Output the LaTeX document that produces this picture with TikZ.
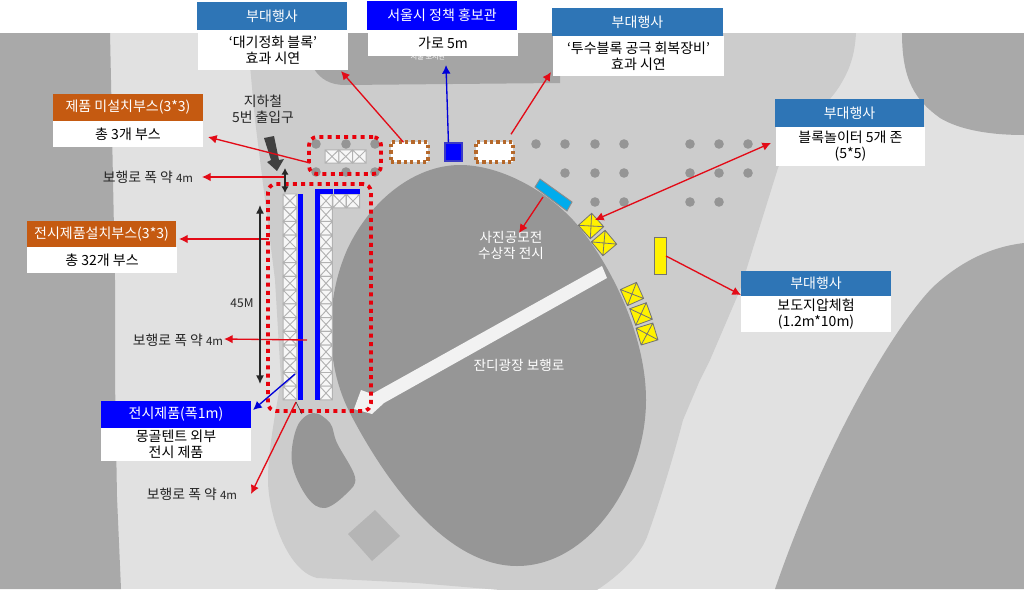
\documentclass[tikz,border=0pt]{standalone}
\usepackage{fontspec}
\setmainfont{Noto Sans CJK KR}
\usetikzlibrary{arrows.meta,calc}
\definecolor{roadc}{HTML}{E1E1E1}
\definecolor{plazac}{HTML}{CCCCCC}
\definecolor{darkc}{HTML}{A9A9A9}
\definecolor{ovalc}{HTML}{969696}
\definecolor{dotc}{HTML}{959595}
\definecolor{hblue}{HTML}{2E75B6}
\definecolor{horange}{HTML}{C55A11}
\definecolor{pure}{HTML}{0000FF}
\definecolor{redl}{HTML}{E30B17}
\definecolor{dotred}{HTML}{E8000B}
\definecolor{brownd}{HTML}{B5682A}
\definecolor{skyb}{HTML}{00ACEC}
\tikzset{
  x=.75pt,y=-.75pt,
  body/.style={fill=white,inner sep=0pt,align=center,text=black,font=\fontsize{10.5}{12}\selectfont},
  hdr/.style={inner sep=0pt,align=center,text=white,font=\fontsize{10.5}{12}\selectfont},
  txt/.style={inner sep=0pt,align=center,text=black!85,font=\fontsize{10.4}{12}\selectfont},
  wtxt/.style={inner sep=0pt,align=center,text=white,font=\fontsize{10.2}{12}\selectfont},
  xcell/.pic={\draw[pic actions] (-1,-1) rectangle (1,1) (-1,-1) -- (1,1) (-1,1) -- (1,-1);},
  graycell/.style={draw=black!30,fill=black!3,line width=.7pt},
  yellowcell/.style={draw=black!55,fill=yellow,line width=.6pt},
  redarrow/.style={draw=redl,line width=1pt,-{Latex[length=6.5pt,width=6.5pt]}},
  bluearrow/.style={draw=blue!85!black,line width=1pt,-{Latex[length=6.5pt,width=6.5pt]}},
  blackarrow/.style={draw=black!85,line width=1pt,-{Latex[length=6.5pt,width=6pt]}},
  dotframe/.style={draw=dotred,line width=2.8pt,dash pattern=on 3pt off 3.2pt,rounded corners=6pt},
  brownframe/.style={draw=brownd,fill=white,line width=2.6pt,dash pattern=on 2.4pt off 2.4pt},
  polenode/.style={circle,fill=dotc,inner sep=0pt,minimum size=7.2pt}
}
\newcommand{\boxnode}[7]{%
  \pgfmathsetmacro{\bw}{(#5-#3)*.75}\pgfmathsetmacro{\bh}{(#6-#4)*.75}%
  \node[#2,minimum width=\bw pt,minimum height=\bh pt] (#1) at ({(#3+#5)/2},{(#4+#6)/2}) {#7};}
\begin{document}
\begin{tikzpicture}
\useasboundingbox (0,0) rectangle (1024,589);
\begin{scope}
\clip (0,0) rectangle (1024,589);
\fill[white] (0,0) rectangle (1024,589);
\fill[roadc] (0,33) rectangle (1024,589);
% left strip
\fill[darkc] (0,33) -- (110,33) -- (111,80) -- (115,280) -- (115,380) -- (117,497) -- (121,589) -- (0,589) -- cycle;
% top right and bottom right blocks
\fill[darkc] (902,33) .. controls (902,80) and (915,100) .. (940,118) .. controls (960,130) and (990,135) .. (1024,135) -- (1024,33) -- cycle;
\fill[darkc] (1024,243) .. controls (990,247) and (960,262) .. (933,287) .. controls (900,320) and (830,430) .. (775,589) -- (1024,589) -- cycle;
% plaza
\fill[plazac] (247,33) -- (255,120) -- (275,280) -- (281,380)
  .. controls (276,410) and (268,450) .. (268,480)
  .. controls (268,510) and (285,570) .. (317,578)
  -- (417,583) -- (500,590) -- (597,590)
  .. controls (620,575) and (640,555) .. (647,537)
  .. controls (655,515) and (670,470) .. (683,420)
  -- (700,380) -- (710,360) -- (740,290) -- (778,168)
  .. controls (790,135) and (830,105) .. (842,82)
  .. controls (852,65) and (855,50) .. (856,33) -- cycle;
% top dark band
\fill[darkc!98!black] (305,33) .. controls (306,60) and (315,85) .. (345,85) -- (560,83) -- (560,33) -- cycle;
% oval
\fill[ovalc] (460,165) .. controls (500,165) and (545,190) .. (573,220)
  .. controls (605,255) and (646,330) .. (646,400)
  .. controls (646,480) and (590,566) .. (517,566)
  .. controls (450,566) and (390,490) .. (350,413)
  .. controls (325,365) and (325,300) .. (347,250)
  .. controls (370,200) and (415,165) .. (460,165) -- cycle;
% pond
\fill[ovalc] plot[smooth cycle,tension=.6] coordinates {(313,413) (330,423) (337,443) (355,477) (347,493) (325,508) (307,497) (292,463) (297,427)};
% diamond
\fill[black!29] (375,510) -- (400,536) -- (372,561) -- (348,534) -- cycle;
\end{scope}
% white walkway arrow
\fill[black!5] (354,409) -- (361,390) -- (372,394) -- (602,266) -- (607,278) -- (384,403) -- (372,414) -- cycle;
% subway arrow
\fill[black!75] (264,138) -- (274,136) -- (279,160) -- (284,159) -- (277,171) -- (267,162) -- (271,160) -- cycle;
% poles
\foreach \px/\py in {316/144,346/144,375/144,316/172,346/172,375/172,
  536/144,565/144,595/144,624/144,690/144,719/144,748/144,
  565/173,595/173,624/173,690/173,719/173,748/173,
  595/202,624/202,690/202,719/202}
  \node[polenode] at (\px,\py) {};
% booths
\foreach \i in {0,...,14}{
  \pic[graycell,xscale=6.9,yscale=6.85] at (290,{194+6.87+13.73*\i}) {xcell};
  \pic[graycell,xscale=6.3,yscale=6.85] at (326,{194+6.87+13.73*\i}) {xcell};
}
\pic[graycell,xscale=6.7,yscale=6.85] at (339.5,201) {xcell};
\pic[graycell,xscale=6.7,yscale=6.85] at (353,201) {xcell};
\pic[graycell,xscale=6.8,yscale=6.6] at (332,156.5) {xcell};
\pic[graycell,xscale=6.8,yscale=6.6] at (345.7,156.5) {xcell};
\pic[graycell,xscale=6.8,yscale=6.6] at (359.4,156.5) {xcell};
% blue strips
\fill[pure] (298,194) rectangle (303,400);
\fill[pure] (315,194) rectangle (320,400);
\fill[pure] (315,189) rectangle (333,194);
\fill[pure] (334,189) rectangle (360,194);
% yellow booths
\pic[yellowcell,scale=9,rotate=42] at (591,226) {xcell};
\pic[yellowcell,scale=9,rotate=40] at (604,243) {xcell};
\pic[yellowcell,scale=8.8,rotate=24] at (632,294) {xcell};
\pic[yellowcell,scale=8.8,rotate=20] at (641,314) {xcell};
\pic[yellowcell,scale=8.8,rotate=17] at (647,334) {xcell};
% nodes of the plan
\boxnode{yellowmat}{draw=black!55,fill=yellow,line width=.7pt,inner sep=0pt}{654}{237}{666}{274}{}
\draw[draw=black!45,fill=skyb,line width=.7pt] (540,179) -- (572,202) -- (567,211) -- (535,187) -- cycle;
\boxnode{brownL}{brownframe,inner sep=0pt}{391}{142}{428}{162}{}
\boxnode{brownR}{brownframe,inner sep=0pt}{476}{142}{513}{162}{}
\boxnode{bluesq}{draw=blue!55!gray,fill=pure,line width=.9pt,inner sep=0pt}{445}{143}{462}{161}{}
\boxnode{frameTop}{dotframe,inner sep=0pt}{309}{137}{381}{174}{}
\boxnode{frameMain}{dotframe,inner sep=0pt}{268}{184}{371}{411}{}
% small text
\node[wtxt,font=\fontsize{5.4}{7}\selectfont] (faint) at (428,57) {서울 보시관};
\node[wtxt] (photo) at (511,245) {사진공모전\\수상작 전시};
\node[wtxt] (lawn) at (519,365) {잔디광장 보행로};
\node[txt] (subway) at (263,109) {지하철\\5번 출입구};
\node[txt,font=\fontsize{9}{12}\selectfont] (len) at (242,303) {45M};
\node[txt] (walkA) at (148,177) {보행로 폭 약 {\fontsize{8.6}{12}\selectfont 4m}};
\node[txt] (walkB) at (178,340) {보행로 폭 약 {\fontsize{8.6}{12}\selectfont 4m}};
\node[txt] (walkC) at (192,494) {보행로 폭 약 {\fontsize{8.6}{12}\selectfont 4m}};
% labels
\boxnode{hA}{hdr,fill=hblue}{197}{2}{347}{30}{부대행사}
\boxnode{bA}{body}{198}{30}{348}{70}{‘대기정화 블록’\\효과 시연}
\boxnode{hB}{hdr,fill=pure}{367}{1}{517}{30}{서울시 정책 홍보관}
\boxnode{bB}{body}{368}{30}{518}{56}{가로 5m}
\boxnode{hC}{hdr,fill=hblue}{552}{8}{723}{36}{부대행사}
\boxnode{bC}{body}{553}{36}{724}{76}{‘투수블록 공극 회복장비’\\효과 시연}
\boxnode{hD}{hdr,fill=hblue}{775}{99}{924}{127}{부대행사}
\boxnode{bD}{body}{776}{127}{925}{166}{블록놀이터 5개 존\\(5*5)}
\boxnode{hE}{hdr,fill=hblue}{741}{271}{891}{296}{부대행사}
\boxnode{bE}{body}{741}{296}{891}{332}{보도지압체험\\(1.2m*10m)}
\boxnode{hF}{hdr,fill=horange}{53}{94}{203}{121}{제품 미설치부스(3*3)}
\boxnode{bF}{body}{53}{121}{203}{147}{총 3개 부스}
\boxnode{hG}{hdr,fill=horange}{27}{221}{176}{247}{전시제품설치부스(3*3)}
\boxnode{bG}{body}{27}{247}{177}{273}{총 32개 부스}
\boxnode{hH}{hdr,fill=pure}{101}{401}{251}{428}{전시제품(폭1m)}
\boxnode{bH}{body}{101}{428}{251}{461}{몽골텐트 외부\\전시 제품}
% connectors
\coordinate (toA) at (341,71);
\coordinate (toC) at (551,72);
\coordinate (toB) at (446,65);
\coordinate (toF) at (208,137);
\coordinate (fromTop) at (310,163);
\coordinate (toWalkA) at (202,177);
\coordinate (fromWalkA) at (285,177);
\coordinate (toG) at (179,239);
\coordinate (fromMain) at (269,239);
\coordinate (toWalkB) at (224,339);
\coordinate (fromWalkB) at (307,340);
\coordinate (fromBlue) at (295,374);
\coordinate (toH) at (253,410);
\coordinate (fromWalkC) at (296,402);
\coordinate (toWalkC) at (251,494);
\coordinate (leaderEnd) at (302,414);
\coordinate (toPhoto) at (519,233);
\coordinate (fromSky) at (543,197);
\coordinate (toYellow) at (595,220);
\coordinate (fromD) at (771,143);
\coordinate (toE) at (741,295);
\coordinate (fromMat) at (666,256);
\coordinate (lenTop) at (260,205);
\coordinate (lenBot) at (260,384);
\coordinate (gapTop) at (285,168);
\coordinate (gapBot) at (285,193);
\draw[redarrow] ([xshift=-4.5pt,yshift=-1.5pt]brownL.north) -- (toA);
\draw[redarrow] ([xshift=12.4pt,yshift=4.5pt]brownR.north) -- (toC);
\draw[bluearrow] ([xshift=-3.8pt]bluesq.north) -- (toB);
\draw[redarrow] (fromTop) -- (toF);
\draw[redarrow] (fromWalkA) -- (toWalkA);
\draw[redarrow] (fromMain) -- (toG);
\draw[redarrow] (fromWalkB) -- (toWalkB);
\draw[bluearrow] (fromBlue) -- (toH);
\draw[redarrow] (fromWalkC) -- (toWalkC);
\draw[draw=black!80,line width=.5pt] (fromWalkC) -- (leaderEnd);
\draw[redarrow] (fromSky) -- (toPhoto);
\draw[redarrow,{Latex[length=6.5pt,width=6.5pt]}-{Latex[length=6.5pt,width=6.5pt]}] (toYellow) -- (fromD);
\draw[redarrow] (fromMat) -- (toE);
\draw[blackarrow,{Latex[length=6.5pt,width=6pt]}-{Latex[length=6.5pt,width=6pt]}] (lenTop) -- (lenBot);
\draw[blackarrow,line width=.9pt,{Latex[length=5pt,width=5.5pt]}-{Latex[length=5pt,width=5.5pt]}] (gapTop) -- (gapBot);
\end{tikzpicture}
\end{document}
